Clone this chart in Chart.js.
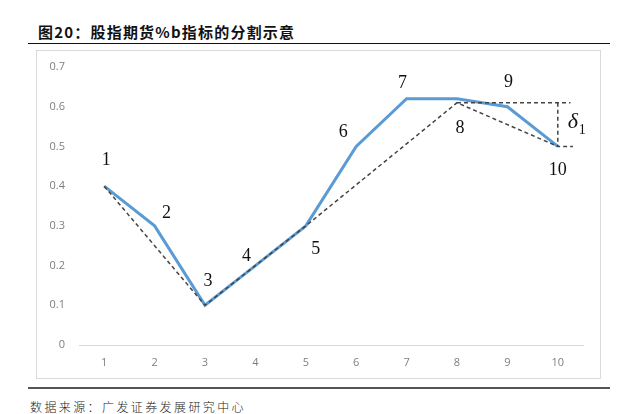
<!DOCTYPE html>
<html>
<head>
<meta charset="utf-8">
<script src="https://cdn.jsdelivr.net/npm/chart.js@4.4.1/dist/chart.umd.min.js"></script>
<style>
  html, body { margin: 0; padding: 0; background: #fff; }
  body { width: 640px; height: 414px; position: relative; overflow: hidden; }
  #title {
    position: absolute; left: 38px; top: 22px;
    font-family: "Noto Sans CJK SC", sans-serif; font-weight: 700;
    font-size: 15px; line-height: 20px; color: #111; letter-spacing: 1.2px;
  }
  #rule-top { position: absolute; left: 28px; width: 582px; top: 43px; height: 0; border-top: 1.5px solid #111; }
  #rule-bottom { position: absolute; left: 28px; width: 582px; top: 387px; height: 0; border-top: 2px solid #555; }
  #source {
    position: absolute; left: 30px; top: 399px;
    font-family: "Noto Sans CJK SC", sans-serif; font-weight: 300;
    font-size: 12px; line-height: 16px; color: #222; letter-spacing: 2.4px;
  }
  #frame {
    position: absolute; left: 36px; top: 50px; width: 563px; height: 327px;
    border: 1px solid #d9d9d9; box-sizing: content-box;
  }
  #frame canvas { display: block; }
</style>
</head>
<body>
<div id="title">图20：股指期货%b指标的分割示意</div>
<div id="rule-top"></div>
<div id="frame"><canvas id="c" width="563" height="327"></canvas></div>
<div id="rule-bottom"></div>
<div id="source">数据来源：广发证券发展研究中心</div>
<script>
// Periods on the x axis and the %b indicator value at each one
const periods = [1, 2, 3, 4, 5, 6, 7, 8, 9, 10];
const pctB = [0.4, 0.3, 0.1, 0.2, 0.3, 0.5, 0.62, 0.62, 0.6, 0.5];

// Segmentation turning points (dashed polyline)
const segPeriods = [1, 3, 5, 8, 10];
const segValues = [0.4, 0.1, 0.3, 0.61, 0.5];

// δ1 bracket: level of the last segment's top and bottom
const deltaTop = 0.61;
const deltaBottom = 0.5;
const deltaFrom = 8;
const deltaAt = 10;
const deltaEnd = 10.3;

// Y axis tick values
const yTicks = [0, 0.1, 0.2, 0.3, 0.4, 0.5, 0.6, 0.7];

// Label placement around each point, in pixels
const labelOffsets = [
  [2, -26], [12, -13], [3, -24], [-9, -9], [10, 23],
  [-13, -14], [-4, -16], [3, 29], [1, -24], [0, 24]
];

const dashColor = '#444';
const dash = [4, 3];

const numberLabels = {
  id: 'numberLabels',
  afterDatasetsDraw(chart) {
    const ctx = chart.ctx;
    const xs = chart.scales.x, ys = chart.scales.y;
    ctx.save();
    ctx.fillStyle = '#111';
    ctx.font = '18px "Liberation Serif", "DejaVu Serif", serif';
    ctx.textAlign = 'center';
    ctx.textBaseline = 'middle';
    periods.forEach((p, i) => {
      const px = xs.getPixelForValue(p) + labelOffsets[i][0];
      const py = ys.getPixelForValue(pctB[i]) + labelOffsets[i][1];
      ctx.fillText(String(p), px, py);
    });
    // δ1 beside the bracket
    const bx = xs.getPixelForValue(deltaAt) + 10;
    const by = ys.getPixelForValue((deltaTop + deltaBottom) / 2);
    ctx.textAlign = 'left';
    ctx.font = 'italic 22px "Liberation Serif", "DejaVu Serif", serif';
    ctx.fillText('δ', bx, by - 2);
    ctx.font = '14px "Liberation Serif", "DejaVu Serif", serif';
    ctx.fillText('1', bx + 11, by + 6);
    ctx.restore();
  }
};

new Chart(document.getElementById('c'), {
  type: 'line',
  data: {
    datasets: [
      {
        label: '%b',
        data: periods.map((p, i) => ({ x: p, y: pctB[i] })),
        borderColor: '#5b9bd5',
        borderWidth: 3,
        pointRadius: 0,
        tension: 0,
        order: 2
      },
      {
        label: 'segments',
        data: segPeriods.map((p, i) => ({ x: p, y: segValues[i] })),
        borderColor: dashColor,
        borderWidth: 1.5,
        borderDash: dash,
        pointRadius: 0,
        tension: 0,
        order: 1
      },
      {
        label: 'delta-top',
        data: [{ x: deltaFrom, y: deltaTop }, { x: deltaEnd - 0.05, y: deltaTop }],
        borderColor: dashColor,
        borderWidth: 1.5,
        borderDash: dash,
        pointRadius: 0,
        order: 1
      },
      {
        label: 'delta-side',
        data: [{ x: deltaAt, y: deltaTop }, { x: deltaAt, y: deltaBottom }, { x: deltaEnd, y: deltaBottom }],
        borderColor: dashColor,
        borderWidth: 1.5,
        borderDash: dash,
        pointRadius: 0,
        order: 1
      }
    ]
  },
  options: {
    responsive: false,
    animation: false,
    devicePixelRatio: 1,
    layout: { padding: { top: 16, right: 17, bottom: 0, left: 0 } },
    plugins: { legend: { display: false }, tooltip: { enabled: false } },
    scales: {
      x: {
        type: 'linear',
        min: 0.5,
        max: 10.5,
        afterBuildTicks(scale) { scale.ticks = periods.map(v => ({ value: v })); },
        afterFit(scale) { scale.height = 33; scale.paddingLeft = 0; scale.paddingRight = 0; },
        grid: { display: false, drawTicks: false },
        border: { color: '#d9d9d9', width: 1 },
        ticks: {
          padding: 11,
          color: '#7f7f7f',
          font: { family: '"Open Sans", "Liberation Sans", sans-serif', size: 11 },
          callback: v => String(v)
        }
      },
      y: {
        min: 0,
        max: 0.7,
        afterBuildTicks(scale) { scale.ticks = yTicks.map(v => ({ value: v })); },
        afterFit(scale) { scale.width = 42; scale.paddingTop = 0; scale.paddingBottom = 0; },
        grid: { display: false, drawTicks: false },
        border: { display: false },
        ticks: {
          padding: 14,
          color: '#7f7f7f',
          font: { family: '"Open Sans", "Liberation Sans", sans-serif', size: 11 },
          callback: v => String(v)
        }
      }
    }
  },
  plugins: [numberLabels]
});
</script>
</body>
</html>
